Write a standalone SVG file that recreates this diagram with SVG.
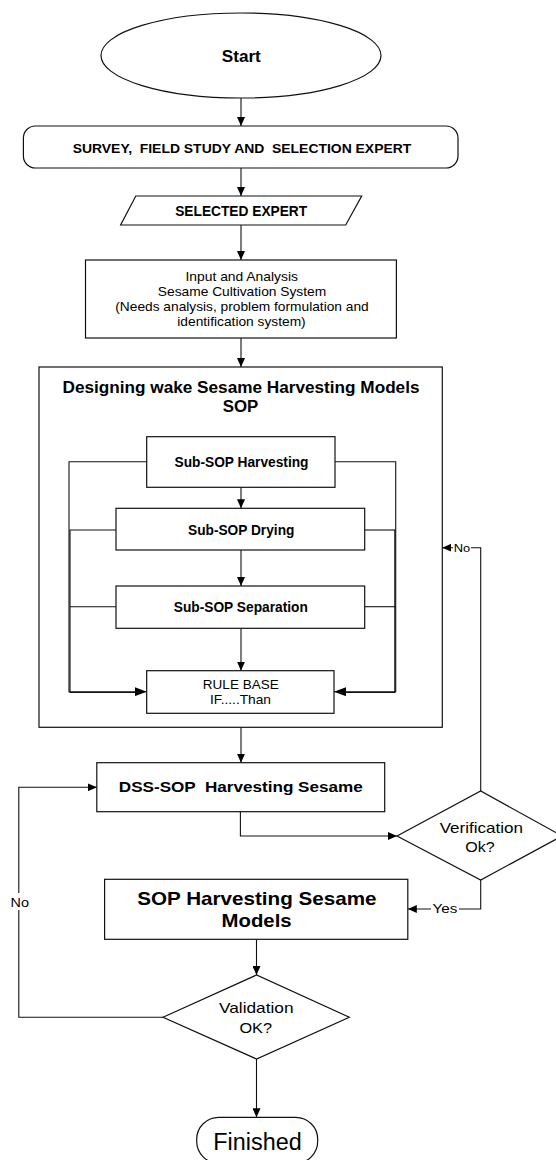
<svg xmlns="http://www.w3.org/2000/svg" width="556" height="1160" viewBox="0 0 556 1160">
  <style>
    .shape { fill: #fff; stroke: #111; stroke-width: 1.2; }
    .frame { fill: none; stroke: #111; stroke-width: 1.2; }
    .wire { fill: none; stroke: #111; stroke-width: 1.1; }
    .t { font-family: "Liberation Sans", Arial, sans-serif; fill: #000; text-anchor: middle; }
    .b { font-weight: bold; }
    .pre { white-space: pre; }
    .lbl-bg { fill: #fff; stroke: none; }
  </style>
  <defs>
    <marker id="arrow" viewBox="0 0 9 8" refX="9" refY="4" markerWidth="9" markerHeight="8" markerUnits="userSpaceOnUse" orient="auto" preserveAspectRatio="none">
      <path d="M0,0 L9,4 L0,8 z" fill="#000"/>
    </marker>
    <marker id="arrowL" viewBox="0 0 12 9" refX="12" refY="4.5" markerWidth="12" markerHeight="9" markerUnits="userSpaceOnUse" orient="auto" preserveAspectRatio="none">
      <path d="M0,0 L12,4.5 L0,9 z" fill="#000"/>
    </marker>
  </defs>

  <rect width="556" height="1160" fill="#fff"/>

  <!-- container for the SOP design stage; drawn first so inner wires stay visible -->
  <g id="sop-design">
    <rect class="frame" x="39" y="367" width="403.3" height="360.3"/>
    <text class="t b" x="241" y="392.7" font-size="16" textLength="357" lengthAdjust="spacingAndGlyphs">Designing wake Sesame Harvesting Models</text>
    <text class="t b" x="240.5" y="411.7" font-size="16" textLength="35.5" lengthAdjust="spacingAndGlyphs">SOP</text>
  </g>

  <!-- connectors -->
  <g id="connectors">
    <path class="wire" d="M241 98 V126" marker-end="url(#arrow)"/>
    <path class="wire" d="M241 168 V196" marker-end="url(#arrow)"/>
    <path class="wire" d="M241 225 V260" marker-end="url(#arrow)"/>
    <path class="wire" d="M241 338 V367" marker-end="url(#arrow)"/>
    <!-- inside the SOP design block -->
    <path class="wire" d="M241 487.3 V508.3" marker-end="url(#arrow)"/>
    <path class="wire" d="M241 550 V586" marker-end="url(#arrow)"/>
    <path class="wire" d="M241 628.3 V670.7" marker-end="url(#arrow)"/>
    <path class="wire" d="M146.7 461.7 H69 V691.7 H146.7" marker-end="url(#arrowL)"/>
    <path class="wire" d="M116 530 H70 V692.5 H140"/>
    <path class="wire" d="M116 606.7 H70"/>
    <path class="wire" d="M335 461.7 H395.7 V691.7 H334" marker-end="url(#arrowL)"/>
    <path class="wire" d="M364.7 530 H395.7"/>
    <path class="wire" d="M364.7 606.7 H395.7"/>
    <path class="wire" d="M394.8 530 V692.5 H340"/>
    <!-- lower flow -->
    <path class="wire" d="M241 727.3 V762.7" marker-end="url(#arrow)"/>
    <path class="wire" d="M240.4 811.7 V836 H397" marker-end="url(#arrow)"/>
    <path class="wire" d="M480.7 791 V547.7 H442.3" marker-end="url(#arrow)"/>
    <path class="wire" d="M480.7 880 V909 H407.8" marker-end="url(#arrow)"/>
    <path class="wire" d="M256.5 939.3 V975" marker-end="url(#arrow)"/>
    <path class="wire" d="M163 1017.3 H18.8 V787.3 H96.8" marker-end="url(#arrow)"/>
    <path class="wire" d="M256.5 1059 V1117.3" marker-end="url(#arrow)"/>
    <!-- branch labels -->
    <rect class="lbl-bg" x="453" y="541" width="18" height="13"/>
    <text class="t" x="462" y="551.7" font-size="11.5" textLength="16.5" lengthAdjust="spacingAndGlyphs">No</text>
    <rect class="lbl-bg" x="431" y="902" width="28" height="14"/>
    <text class="t" x="445" y="913.3" font-size="12" textLength="24.8" lengthAdjust="spacingAndGlyphs">Yes</text>
    <rect class="lbl-bg" x="9" y="893" width="22" height="17"/>
    <text class="t" x="19.8" y="906.7" font-size="13" textLength="18.4" lengthAdjust="spacingAndGlyphs">No</text>
  </g>

  <g id="start">
    <ellipse class="shape" cx="241" cy="55.5" rx="140" ry="42.5"/>
    <text class="t b" x="241.3" y="61.7" font-size="16" textLength="39" lengthAdjust="spacingAndGlyphs">Start</text>
  </g>

  <g id="survey">
    <rect class="shape" x="23.4" y="126" width="434.6" height="42" rx="12" ry="12"/>
    <text class="t b pre" x="242" y="152.6" font-size="13" textLength="338.6" lengthAdjust="spacingAndGlyphs">SURVEY,  FIELD STUDY AND  SELECTION EXPERT</text>
  </g>

  <g id="selected-expert">
    <polygon class="shape" points="135.8,196 361.7,196 345.7,225 120.6,225"/>
    <text class="t b" x="241.2" y="216" font-size="14" textLength="132" lengthAdjust="spacingAndGlyphs">SELECTED EXPERT</text>
  </g>

  <g id="input-analysis">
    <rect class="shape" x="85.5" y="260" width="310.9" height="78"/>
    <text class="t" x="241.7" y="281" font-size="13" textLength="112.4" lengthAdjust="spacingAndGlyphs">Input and Analysis</text>
    <text class="t" x="242" y="296" font-size="13" textLength="168.4" lengthAdjust="spacingAndGlyphs">Sesame Cultivation System</text>
    <text class="t" x="242" y="311" font-size="13" textLength="253.5" lengthAdjust="spacingAndGlyphs">(Needs analysis, problem formulation and</text>
    <text class="t" x="241.5" y="326" font-size="13" textLength="128.4" lengthAdjust="spacingAndGlyphs">identification system)</text>
  </g>

  <g id="sub-harvesting">
    <rect class="shape" x="146.7" y="436.7" width="188.3" height="50.6"/>
    <text class="t b" x="241.5" y="466.7" font-size="14" textLength="134" lengthAdjust="spacingAndGlyphs">Sub-SOP Harvesting</text>
  </g>

  <g id="sub-drying">
    <rect class="shape" x="116" y="508.3" width="248.7" height="41.7"/>
    <text class="t b" x="241.2" y="535" font-size="14" textLength="106.4" lengthAdjust="spacingAndGlyphs">Sub-SOP Drying</text>
  </g>

  <g id="sub-separation">
    <rect class="shape" x="116" y="586" width="248.7" height="42.3"/>
    <text class="t b" x="240.8" y="611.7" font-size="14" textLength="134" lengthAdjust="spacingAndGlyphs">Sub-SOP Separation</text>
  </g>

  <g id="rule-base">
    <rect class="shape" x="146.7" y="670.7" width="187.3" height="42.6"/>
    <text class="t" x="240.8" y="689.3" font-size="13.5" textLength="75.9" lengthAdjust="spacingAndGlyphs">RULE BASE</text>
    <text class="t" x="240.5" y="704.3" font-size="13.5" textLength="61" lengthAdjust="spacingAndGlyphs">IF.....Than</text>
  </g>

  <g id="dss">
    <rect class="shape" x="96.8" y="762.7" width="287.9" height="49"/>
    <text class="t b pre" x="240.8" y="792.3" font-size="14.5" textLength="244" lengthAdjust="spacingAndGlyphs">DSS-SOP  Harvesting Sesame</text>
  </g>

  <g id="verification">
    <polygon class="shape" points="397,836 480.7,791 562,836 480.7,880"/>
    <text class="t" x="481.3" y="832.7" font-size="15" textLength="83.3" lengthAdjust="spacingAndGlyphs">Verification</text>
    <text class="t" x="479.9" y="851.7" font-size="15" textLength="29.4" lengthAdjust="spacingAndGlyphs">Ok?</text>
  </g>

  <g id="sop-models">
    <rect class="shape" x="104.6" y="879.3" width="303.2" height="60"/>
    <text class="t b" x="256.9" y="905" font-size="18.5" textLength="239.4" lengthAdjust="spacingAndGlyphs">SOP Harvesting Sesame</text>
    <text class="t b" x="256.6" y="927.3" font-size="18.5" textLength="70" lengthAdjust="spacingAndGlyphs">Models</text>
  </g>

  <g id="validation">
    <polygon class="shape" points="163,1017.3 256.5,975 349.3,1017.3 256.5,1059"/>
    <text class="t" x="256.3" y="1013.3" font-size="15" textLength="74.5" lengthAdjust="spacingAndGlyphs">Validation</text>
    <text class="t" x="255.7" y="1032.7" font-size="15" textLength="32.6" lengthAdjust="spacingAndGlyphs">OK?</text>
  </g>

  <g id="finished">
    <rect class="shape" x="196.7" y="1117.3" width="121" height="46" rx="22" ry="22"/>
    <text class="t" x="257.5" y="1150" font-size="23" textLength="88.4" lengthAdjust="spacingAndGlyphs">Finished</text>
  </g>
</svg>
